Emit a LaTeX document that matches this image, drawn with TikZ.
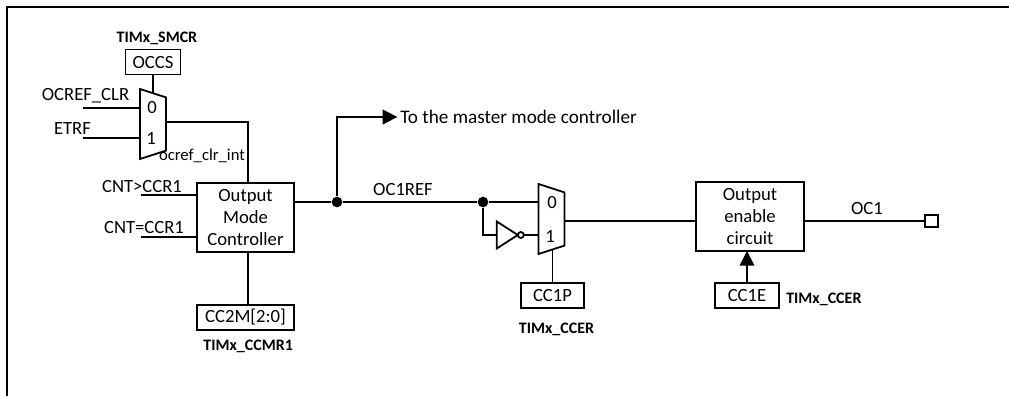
\documentclass[tikz,border=0pt]{standalone}
\usepackage{fontspec}
\setmainfont{Carlito}
\usetikzlibrary{arrows.meta, positioning, calc, shapes.geometric}

\begin{document}
\begin{tikzpicture}[
    x=0.75pt, y=-0.75pt,
    node distance=10pt,
    font=\fontsize{14pt}{16.5pt}\selectfont,
    >={Triangle[length=11pt, width=11pt]},
    wire/.style={line width=1.35pt},
    box/.style={rectangle, draw, line width=1.35pt, outer sep=0pt, inner sep=0pt, align=center},
    ctrlbox/.style={box, minimum width=72.75pt, minimum height=51.75pt},
    regbox/.style={box, minimum width=47.5pt, minimum height=18.75pt},
    regname/.style={inner sep=0pt, font=\fontsize{12pt}{14pt}\selectfont\bfseries},
    signame/.style={inner sep=0pt},
    mux/.style={trapezium, draw, line width=1.35pt, trapezium stretches=true, trapezium left angle=81, trapezium right angle=81,
        shape border rotate=270, minimum width=52.5pt, minimum height=19.5pt, inner sep=1pt, outer sep=0pt},
    dot/.style={circle, fill=black, inner sep=0pt, minimum size=8pt},
    pin/.style={rectangle, draw, line width=1.35pt, inner sep=0pt, outer sep=0pt, minimum size=9.5pt}
]

    \useasboundingbox (0,0) rectangle (1009,396);

    % Frame
    \coordinate (framea) at (7,396);
    \coordinate (frameb) at (7,7);
    \coordinate (framec) at (1009,7);
    \draw[wire] (framea) -- (frameb) -- (framec);

    % Main blocks
    \node[ctrlbox] (outmode) at (245.5,217.5) {Output\\Mode\\Controller};
    \node[ctrlbox, minimum width=81pt, right=301.5pt of outmode, yshift=0.75pt] (oenable) {Output\\enable\\circuit};

    % Clear selector
    \node[mux] (muxclr) at (153,124) {};
    \node[regbox, minimum width=41.25pt, above=14pt of muxclr] (occs) {OCCS};
    \node[regname, above=3.5pt of occs, xshift=3pt] (smcr) {TIMx\_SMCR};
    \node[signame] (zeroclr) at (152,108) {0};
    \node[signame] (oneclr) at (151,138) {1};
    \node[signame] (lblclr) at (85.5,96) {OCREF\_CLR};
    \node[signame] (lbletrf) at (72.5,129) {ETRF};
    \node[signame, font=\fontsize{12.5pt}{14pt}\selectfont] (lblint) at (202,156) {ocref\_clr\_int};
    \coordinate (inclr) at (83,108);
    \coordinate (inetrf) at (83,138);
    \coordinate (clrout) at (248,122);

    \draw[wire] (occs) -- (muxclr.north);
    \draw[wire] (inclr) -- (muxclr.west |- inclr);
    \draw[wire] (inetrf) -- (muxclr.west |- inetrf);
    \draw[wire] (muxclr.east |- clrout) -- (clrout) -- (clrout |- outmode.north);

    % Compare inputs
    \node[signame] (lblgt) at (142,187) {CNT>CCR1};
    \node[signame] (lbleq) at (144,228) {CNT=CCR1};
    \coordinate (ingt) at (141,195);
    \coordinate (ineq) at (141,237);
    \draw[wire] (ingt) -- (outmode.west |- ingt);
    \draw[wire] (ineq) -- (outmode.west |- ineq);

    % Mode register
    \node[ctrlbox, minimum height=18.75pt, below=39.75pt of outmode] (ccm) {CC2M[2:0]};
    \node[regname, below=7pt of ccm, xshift=2pt] (ccmr) {TIMx\_CCMR1};
    \coordinate (ccmtop) at (248,252);
    \draw[wire] (ccmtop) -- (ccmtop |- ccm.north);

    % Reference output
    \node[dot] (dotout) at (337,202) {};
    \node[dot] (dotinv) at (483,202) {};
    \node[signame] (lblref) at (403,190) {OC1REF};
    \node[signame, anchor=west, font=\fontsize{14.4pt}{16.5pt}\selectfont] (lblmaster) at (400,117) {To the master mode controller};
    \coordinate (bend) at (337,117);
    \draw[wire] (outmode.east |- dotout) -- (dotout);
    \draw[wire] (dotout) -- (dotinv);
    \draw[wire, ->, shorten >=2pt] (dotout) -- (bend) -- (lblmaster.west);

    % Polarity selector
    \node[mux] (muxpol) at (551.5,219) {};
    \node[signame] (zeropol) at (552,203) {0};
    \node[signame] (onepol) at (550,236) {1};
    \node[isosceles triangle, isosceles triangle stretches, draw, line width=1.35pt, inner sep=0.5pt, outer sep=0pt,
        minimum height=15.75pt, minimum width=20.25pt] (inv) at (504,235) {};
    \node[circle, draw, line width=1.35pt, inner sep=0pt, outer sep=0pt, minimum size=4.5pt, right=0pt of inv] (invout) {};
    \node[regbox, below=25pt of muxpol, xshift=0.75pt] (ccp) {CC1P};
    \node[regname, below=11pt of ccp, xshift=3pt] (ccerp) {TIMx\_CCER};

    \draw[wire] (dotinv) -- (muxpol.west |- dotinv);
    \draw[wire] (dotinv) |- (inv.west);
    \draw[wire] (invout) -- (muxpol.west |- invout);
    \draw[wire] (ccp) -- (ccp |- muxpol.south);

    % Output stage
    \node[pin] (oc1pin) at (931.5,221) {};
    \node[signame] (lbloc) at (867,209) {OC1};
    \node[regbox, below=24pt of oenable, xshift=-2.25pt] (cce) {CC1E};
    \node[regname, right=5.5pt of cce, yshift=-3pt] (ccere) {TIMx\_CCER};

    \draw[wire] (muxpol.east |- oc1pin) -- (oenable.west |- oc1pin);
    \draw[wire] (oenable.east |- oc1pin) -- (oc1pin);
    \draw[wire, ->] (cce) -- (cce |- oenable.south);

\end{tikzpicture}
\end{document}
